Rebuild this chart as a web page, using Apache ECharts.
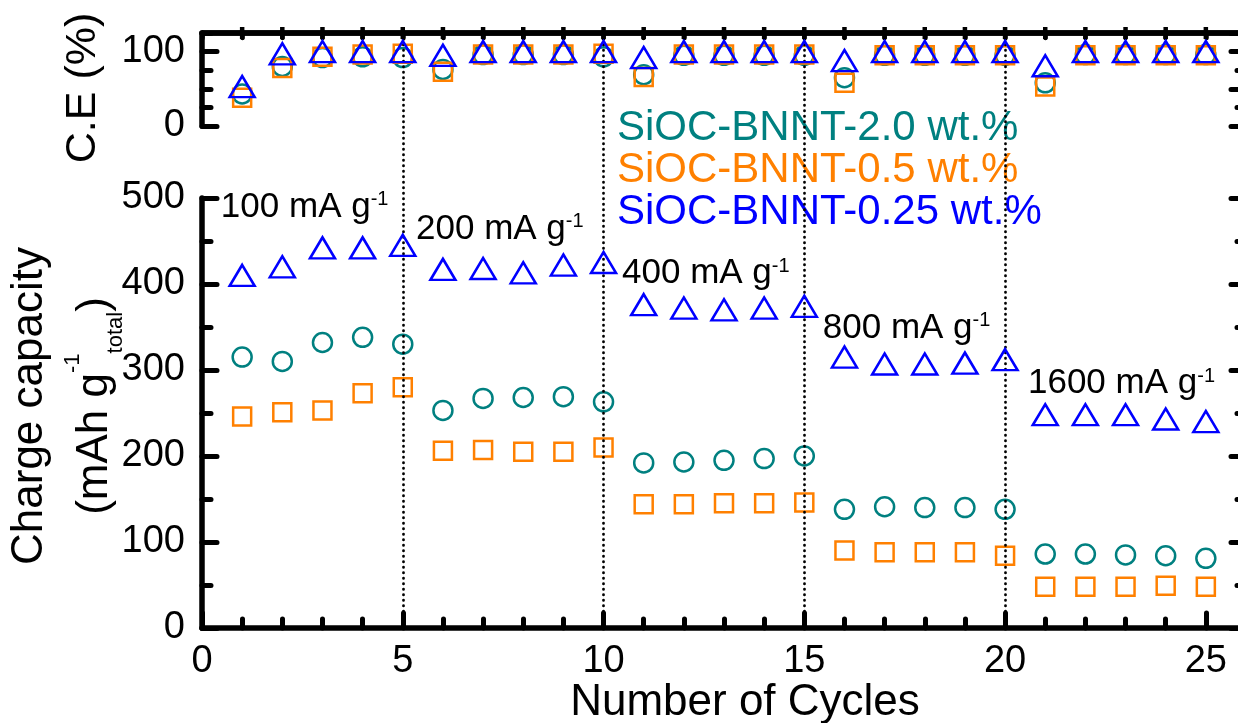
<!DOCTYPE html>
<html>
<head>
<meta charset="utf-8">
<script src="https://cdn.jsdelivr.net/npm/echarts@6/dist/echarts.min.js"></script>
<style>
  html, body { margin: 0; padding: 0; background: #ffffff; }
  #chart { width: 1238px; height: 723px; }
</style>
</head>
<body>
<div id="chart"></div>
<script>
// Rate-capability test: coulombic efficiency (top) and charge capacity (bottom)
const cycles = [1, 2, 3, 4, 5, 6, 7, 8, 9, 10, 11, 12, 13, 14, 15, 16, 17, 18, 19, 20, 21, 22, 23, 24, 25];

const seriesNames = ['SiOC-BNNT-2.0 wt.%', 'SiOC-BNNT-0.5 wt.%', 'SiOC-BNNT-0.25 wt.%'];

// Coulombic efficiency, %
const ce20  = [43, 80, 92, 93, 92, 76, 96, 96, 96, 93, 69, 95, 95, 95, 95, 65, 95, 95, 95, 95, 58, 96, 96, 96, 96];
const ce05  = [38, 78, 93, 96, 97, 73, 96, 96, 96, 97, 66, 96, 96, 96, 96, 58, 95, 95, 95, 95, 53, 95, 95, 95, 95];
const ce025 = [53, 97, 100, 100, 100, 95, 100, 100, 100, 100, 92, 100, 100, 100, 100, 88, 100, 100, 100, 100, 81, 100, 100, 100, 100];

// Charge capacity, mAh g-1 (total)
const cap20  = [315, 310, 332, 338, 330, 253, 267, 268, 269, 263, 192, 193, 195, 197, 200, 138, 141, 140, 140, 138, 86, 86, 85, 84, 81];
const cap05  = [246, 251, 253, 273, 280, 206, 207, 205, 205, 210, 144, 144, 145, 145, 146, 90, 88, 88, 88, 84, 48, 48, 48, 49, 48];
const cap025 = [410, 420, 442, 442, 445, 417, 418, 413, 422, 425, 376, 372, 370, 372, 374, 315, 307, 307, 308, 312, 248, 248, 248, 243, 240];

// Current-density steps (cycle after which the rate changes) and their labels
const rateSteps = [5, 10, 15, 20];
const rateLabels = ['100', '200', '400', '800', '1600'];

const FONT = '"Liberation Sans", Arial, Helvetica, sans-serif';
const colors = ['#008080', '#FF8000', '#0000FF'];
const symbols = ['circle', 'rect', 'triangle'];
const symbolSizes = [19, 18, [25, 21]];

const X_MAX = 26;
const CE_MAX = 125;
const AXIS_W = 5.5;
const TICK_W = 5;

function markerSeries(i, values, xIdx, yIdx) {
  return {
    type: 'scatter',
    name: seriesNames[i],
    xAxisIndex: xIdx,
    yAxisIndex: yIdx,
    data: cycles.map((c, k) => [c, values[k]]),
    symbol: symbols[i],
    symbolSize: symbolSizes[i],
    itemStyle: { color: 'rgba(0,0,0,0)', borderColor: colors[i], borderWidth: 2.5, opacity: 1 },
    emphasis: { disabled: true },
    silent: true,
    z: 3 + i
  };
}

function axisLine(show) {
  return { show: show, onZero: false, lineStyle: { color: '#000', width: AXIS_W } };
}

function ticks(len, width) {
  return { show: true, inside: true, length: len, lineStyle: { color: '#000', width: width || TICK_W, cap: 'round' } };
}

// anchors for the current-density captions: [cycle, capacity] at caption's left/middle
const rateLabelAnchors = [[0.47, 489], [5.33, 464], [10.46, 412], [15.46, 349], [20.57, 284]];

const chart = echarts.init(document.getElementById('chart'), null, { renderer: 'canvas' });

const option = {
  animation: false,
  backgroundColor: '#ffffff',
  textStyle: { fontFamily: FONT },
  grid: [
    { left: 202, right: -8, top: 33, bottom: 597, outerBoundsMode: 'none' },
    { left: 202, right: -8, top: 198, bottom: 95, outerBoundsMode: 'none' },
    { left: 202, right: -8, top: 33, bottom: 95, outerBoundsMode: 'none' }
  ],
  legend: {
    orient: 'vertical',
    left: 611,
    top: 107,
    padding: 0,
    itemGap: 0,
    itemWidth: 1,
    itemHeight: 10,
    icon: 'none',
    selectedMode: false,
    data: seriesNames.map((n, i) => ({ name: n, textStyle: { color: colors[i] } })),
    textStyle: { fontSize: 42, lineHeight: 40, fontFamily: FONT }
  },
  xAxis: [
    { // efficiency panel x scale (frame drawn by the series below)
      gridIndex: 0, type: 'value', position: 'top', min: 0, max: X_MAX, interval: 1,
      axisLine: axisLine(true),
      axisTick: ticks(5, 4.5),
      axisLabel: { show: false }, splitLine: { show: false }
    },
    { // cycle axis, major ticks and labels
      gridIndex: 1, type: 'value', position: 'bottom', min: 0, max: X_MAX, interval: 5,
      axisLine: axisLine(true),
      axisTick: ticks(15),
      axisLabel: { show: true, fontSize: 38, color: '#000', margin: 15, showMaxLabel: false, fontFamily: FONT },
      splitLine: { show: false },
      name: 'Number of Cycles',
      nameLocation: 'middle',
      nameGap: 53,
      nameMoveOverlap: false,
      nameTextStyle: { fontSize: 44, color: '#000', fontFamily: FONT, lineHeight: 44, padding: [0, 0, 0, 42] }
    },
    { // cycle axis, minor ticks
      gridIndex: 1, type: 'value', position: 'bottom', min: 0, max: X_MAX, interval: 1,
      axisLine: axisLine(false),
      axisTick: ticks(9),
      axisLabel: { show: false }, splitLine: { show: false }
    },
    { // overlay spanning both panels (rate boundaries)
      gridIndex: 2, type: 'value', min: 0, max: X_MAX, show: false,
      axisLine: axisLine(false), splitLine: { show: false }
    }
  ],
  yAxis: [
    { // C.E left, major
      gridIndex: 0, type: 'value', position: 'left', min: 0, max: CE_MAX, interval: 50,
      axisLine: axisLine(true),
      axisTick: ticks(15),
      axisLabel: { show: true, fontSize: 38, color: '#000', margin: 17, showMaxLabel: false, showMinLabel: true, fontFamily: FONT },
      splitLine: { show: false },
      name: 'C.E (%)',
      nameLocation: 'middle',
      nameGap: 97,
      nameMoveOverlap: false,
      nameTextStyle: { fontSize: 43, color: '#000', fontFamily: FONT, lineHeight: 44, padding: [0, 17, 0, 0] }
    },
    { // C.E left, minor
      gridIndex: 0, type: 'value', position: 'left', min: 0, max: CE_MAX, interval: 25,
      axisLine: axisLine(false),
      axisTick: ticks(9),
      axisLabel: { show: false }, splitLine: { show: false }
    },
    { // C.E right, major
      gridIndex: 0, type: 'value', position: 'right', min: 0, max: CE_MAX, interval: 50,
      axisLine: axisLine(true),
      axisTick: ticks(15),
      axisLabel: { show: false }, splitLine: { show: false }
    },
    { // C.E right, minor
      gridIndex: 0, type: 'value', position: 'right', min: 0, max: CE_MAX, interval: 25,
      axisLine: axisLine(false),
      axisTick: ticks(9),
      axisLabel: { show: false }, splitLine: { show: false }
    },
    { // capacity left
      gridIndex: 1, type: 'value', position: 'left', min: 0, max: 500, interval: 100,
      axisLine: axisLine(true),
      axisTick: ticks(15),
      minorTick: { show: true, splitNumber: 2, length: 9, lineStyle: { color: '#000', width: TICK_W, cap: 'round' } },
      axisLabel: { show: true, fontSize: 38, color: '#000', margin: 17, fontFamily: FONT },
      splitLine: { show: false },
      name: '{a|Charge capacity}\n{b|(mAh g}{sup|-1}{sub|total}{b|)}',
      nameLocation: 'middle',
      nameGap: 75,
      nameMoveOverlap: false,
      nameTextStyle: {
        color: '#000', fontFamily: FONT, fontSize: 44, padding: [0, 0, 0, 14],
        rich: {
          a: { fontSize: 44, lineHeight: 65, color: '#000', fontFamily: FONT },
          b: { fontSize: 44, lineHeight: 65, color: '#000', fontFamily: FONT },
          sup: { fontSize: 22, lineHeight: 44, verticalAlign: 'top', color: '#000', fontFamily: FONT },
          sub: { fontSize: 22, lineHeight: 24, verticalAlign: 'bottom', color: '#000', fontFamily: FONT }
        }
      }
    },
    { // capacity right
      gridIndex: 1, type: 'value', position: 'right', min: 0, max: 500, interval: 100,
      axisLine: axisLine(true),
      axisTick: ticks(15),
      minorTick: { show: true, splitNumber: 2, length: 9, lineStyle: { color: '#000', width: TICK_W, cap: 'round' } },
      axisLabel: { show: false }, splitLine: { show: false }
    },
    { // overlay
      gridIndex: 2, type: 'value', min: 0, max: 1, show: false,
      axisLine: axisLine(false), splitLine: { show: false }
    }
  ],
  series: [
    // rate boundaries, dotted, through both panels
    {
      type: 'scatter', name: 'rate-steps', xAxisIndex: 3, yAxisIndex: 6,
      data: rateSteps.map(v => [v, 0]), symbolSize: 0, silent: true, z: 2,
      markLine: {
        silent: true, symbol: ['none', 'none'], animation: false,
        label: { show: false },
        emphasis: { disabled: true },
        lineStyle: { color: '#000', width: 2.7, type: [0.5, 5], cap: 'round' },
        data: rateSteps.map(v => ({ xAxis: v }))
      }
    },
    // top frame of the efficiency panel with its inward cycle ticks
    {
      type: 'scatter', name: 'ce-frame', xAxisIndex: 0, yAxisIndex: 0,
      data: cycles.map(c => [c, CE_MAX]),
      symbol: 'rect', symbolSize: [4.5, 12], silent: true, z: 7,
      itemStyle: { color: '#000', opacity: 1 },
      emphasis: { disabled: true },
      markLine: {
        silent: true, symbol: ['none', 'none'], animation: false,
        label: { show: false },
        emphasis: { disabled: true },
        lineStyle: { color: '#000', width: AXIS_W, type: 'solid' },
        data: [{ yAxis: CE_MAX }]
      }
    },
    markerSeries(0, ce20, 0, 0),
    markerSeries(1, ce05, 0, 0),
    markerSeries(2, ce025, 0, 0),
    markerSeries(0, cap20, 1, 4),
    markerSeries(1, cap05, 1, 4),
    markerSeries(2, cap025, 1, 4),
    // current-density captions
    {
      type: 'scatter', name: 'rate-labels', xAxisIndex: 1, yAxisIndex: 4,
      data: rateLabelAnchors, symbolSize: 0, silent: true, z: 6,
      itemStyle: { opacity: 1 },
      label: {
        show: true, position: 'right', distance: 0, color: '#000', opacity: 1,
        formatter: p => '{n|' + rateLabels[p.dataIndex] + ' mA g}{s|-1}',
        rich: {
          n: { fontSize: 35, lineHeight: 35, color: '#000', fontFamily: FONT },
          s: { fontSize: 20, lineHeight: 20, verticalAlign: 'top', color: '#000', fontFamily: FONT }
        }
      }
    }
  ]
};

chart.setOption(option);
</script>
</body>
</html>
